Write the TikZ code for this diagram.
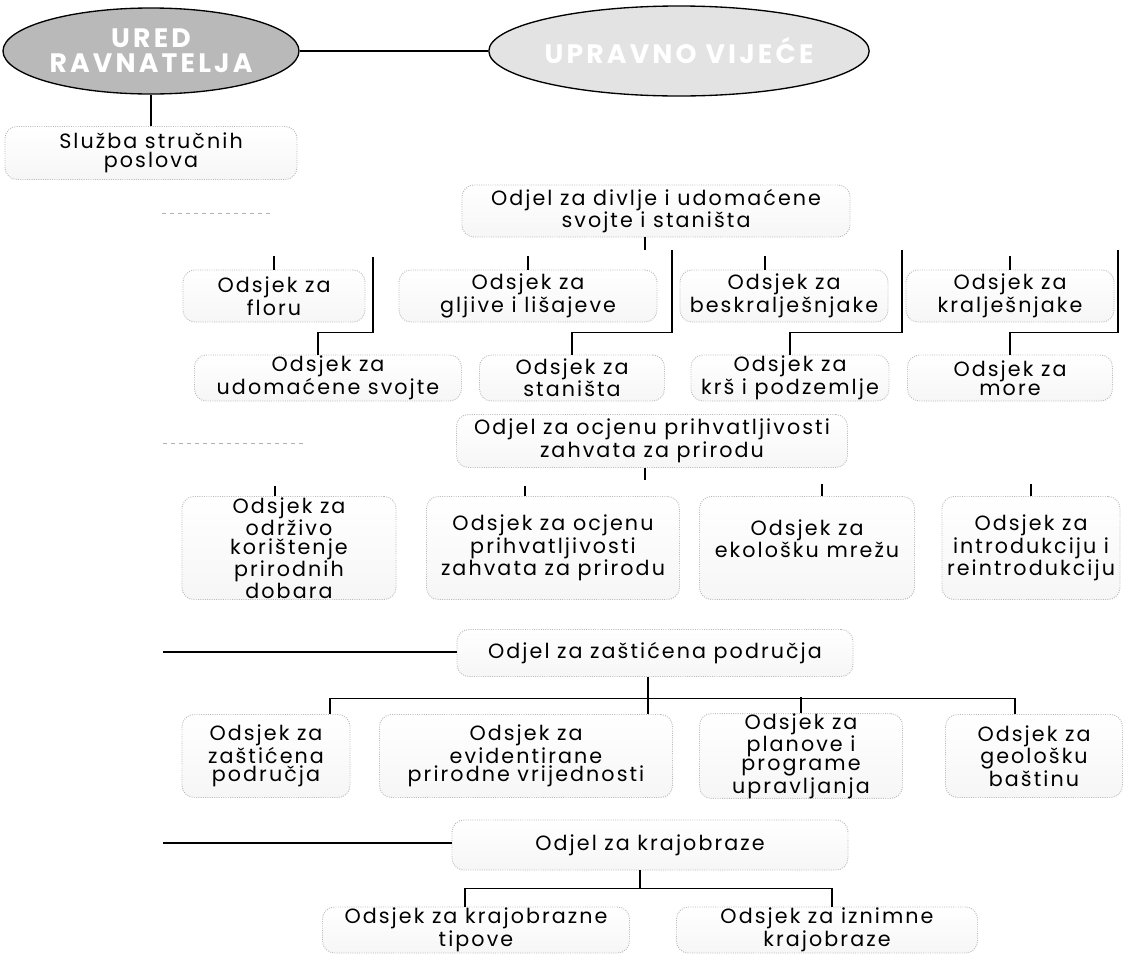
\documentclass[tikz,border=0pt]{standalone}
\usepackage{fontspec}
\newfontfamily\gfont{Poppins}[LetterSpace=10]
\newfontfamily\efont{Poppins}[LetterSpace=12]
\usetikzlibrary{shapes.geometric,calc}
\begin{document}
\begin{tikzpicture}[x=0.75pt,y=-0.75pt,
  box/.style={draw=gray!55, densely dotted, line width=0.7pt, rounded corners=9pt,
    align=center, inner sep=0pt, font=\gfont\fontsize{15.5}{14}\selectfont,
    top color=white, bottom color=gray!7},
  oval/.style={ellipse, draw=black, line width=1pt, inner sep=0pt, align=center,
    text=white, font=\efont\bfseries\fontsize{20}{19}\selectfont},
  conn/.style={line width=0.8pt, black},
  faint/.style={gray!60, dashed, line width=0.6pt}]
\fill[white] (0,0) rectangle (1128,957);
\useasboundingbox (0,0) rectangle (1128,957);

% top ovals
\node[oval, fill=gray!55, minimum width=222pt, minimum height=64.5pt] (ured) at (151,51) {URED\\RAVNATELJA};
\node[oval, fill=gray!22, minimum width=208.5pt, minimum height=67.5pt] (vijece) at (679,51) {UPRAVNO VIJEĆE};

\node[box, minimum width=219pt, minimum height=39.75pt] (sluzba) at (151,153) {Služba stručnih\\poslova};

% Odjel 1
\node[box, minimum width=291pt, minimum height=39pt] (odjel1) at (656,211) {Odjel za divlje i udomaćene\\svojte i staništa};
\node[box, minimum width=136.5pt, minimum height=39pt] (flora) at (274,296) {Odsjek za\\floru};
\node[box, minimum width=193.5pt, minimum height=39pt] (gljive) at (528,296) {Odsjek za\\gljive i lišajeve};
\node[box, minimum width=156pt, minimum height=39pt] (beskr) at (784,296) {Odsjek za\\beskralješnjake};
\node[box, minimum width=156pt, minimum height=39pt] (kralj) at (1010,296) {Odsjek za\\kralješnjake};
\node[box, minimum width=200.25pt, minimum height=34.5pt] (udom) at (328,378) {Odsjek za\\udomaćene svojte};
\node[box, minimum width=138.75pt, minimum height=34.5pt] (stan) at (572,378) {Odsjek za\\staništa};
\node[box, minimum width=148.5pt, minimum height=34.5pt] (krs) at (790,378) {Odsjek za\\krš i podzemlje};
\node[box, minimum width=153.75pt, minimum height=34.5pt] (more) at (1010,378) {Odsjek za\\more};

% Odjel 2
\node[box, minimum width=293.25pt, minimum height=39.75pt] (odjel2) at (652,441) {Odjel za ocjenu prihvatljivosti\\zahvata za prirodu};
\node[box, minimum width=160.5pt, minimum height=77.25pt] (odrz) at (289,548) {Odsjek za\\održivo\\korištenje\\prirodnih\\dobara};
\node[box, minimum width=189.75pt, minimum height=77.25pt] (ocj) at (553,548) {Odsjek za ocjenu\\prihvatljivosti\\zahvata za prirodu};
\node[box, minimum width=161.25pt, minimum height=77.25pt] (ekol) at (807,548) {Odsjek za\\ekološku mrežu\\\mbox{}};
\node[box, minimum width=133.5pt, minimum height=77.25pt] (intr) at (1031,548) {Odsjek za\\introdukciju i\\reintrodukciju};

% Odjel 3
\node[box, minimum width=297pt, minimum height=35.25pt] (odjel3) at (655,653) {Odjel za zaštićena područja};
\node[box, minimum width=126pt, minimum height=62.25pt] (zast) at (266,756) {Odsjek za\\zaštićena\\područja};
\node[box, minimum width=219.75pt, minimum height=62.25pt] (evid) at (526,756) {Odsjek za\\evidentirane\\prirodne vrijednosti};
\node[box, minimum width=152.25pt, minimum height=62.25pt] (plan) at (801,756) {Odsjek za\\planove i\\programe\\upravljanja};
\node[box, minimum width=132.75pt, minimum height=62.25pt] (geol) at (1034,756) {Odsjek za\\geološku\\baštinu};

% Odjel 4
\node[box, minimum width=297pt, minimum height=37.5pt] (odjel4) at (650,845) {Odjel za krajobraze};
\node[box, minimum width=230.25pt, minimum height=34.5pt] (tip) at (476,930) {Odsjek za krajobrazne\\tipove};
\node[box, minimum width=225.75pt, minimum height=34.5pt] (izn) at (827,930) {Odsjek za iznimne\\krajobraze};

% connectors: top
\draw[conn] (ured.east) -- (vijece.west);
\draw[conn] (ured.south) -- (sluzba.north);

% left lines to odjels
\coordinate (l1) at (162,213);
\coordinate (l2) at (163,443);
\coordinate (l3) at (163,652);
\coordinate (l4) at (163,843);
\draw[faint] (l1) -- ++(111,0);
\draw[faint] (l2) -- ++(140,0);
\draw[conn] (l3) -- (l3 -| odjel3.west);
\draw[conn] (l4) -- (l4 -| odjel4.west);

% odjel 1 branches
\draw[conn] ($(odjel1.south)+(-11,0)$) -- ++(0,13);
\draw[conn] (flora.north) -- ++(0,-14);
\draw[conn] (gljive.north) -- ++(0,-14);
\draw[conn] ($(beskr.north)+(-19,0)$) -- ++(0,-14);
\draw[conn] (kralj.north) -- ++(0,-14);
\coordinate (t1) at (373,257);
\coordinate (t2) at (672,250);
\coordinate (t3) at (902,250);
\coordinate (t4) at (1118,250);
\draw[conn] (t1) |- ($(udom.north)+(-10,-22)$) -- ($(udom.north)+(-10,0)$);
\draw[conn] (t2) |- ($(stan.north)+(0,-22)$) -- (stan.north);
\draw[conn] (t3) |- ($(krs.north)+(0,-22)$) -- (krs.north);
\draw[conn] (t4) |- ($(more.north)+(0,-22)$) -- (more.north);

% odjel 2 branches
\draw[conn] ($(odjel2.south)+(-7,0)$) -- ++(0,12);
\draw[conn] ($(odrz.north)+(-14,0)$) -- ++(0,-10);
\draw[conn] ($(ocj.north)+(-28,0)$) -- ++(0,-10);
\draw[conn] ($(ekol.north)+(15,0)$) -- ++(0,-12);
\draw[conn] (intr.north) -- ++(0,-12);

% odjel 3 branches
\coordinate (o3) at ($(odjel3.south)+(-7,0)$);
\draw[conn] (o3) -- (o3 |- evid.north);
\draw[conn] ($(zast.north)+(64,0)$) |- ($(geol.north)+(-19,-16)$) -- ($(geol.north)+(-19,0)$);
\draw[conn] (plan.north) -- ++(0,-16);

% odjel 4 branches
\draw[conn] ($(odjel4.south)+(-10,0)$) -- ++(0,19);
\draw[conn] ($(tip.north)+(-11,0)$) |- ($(izn.north)+(5,-18)$) -- ($(izn.north)+(5,0)$);
\end{tikzpicture}
\end{document}
